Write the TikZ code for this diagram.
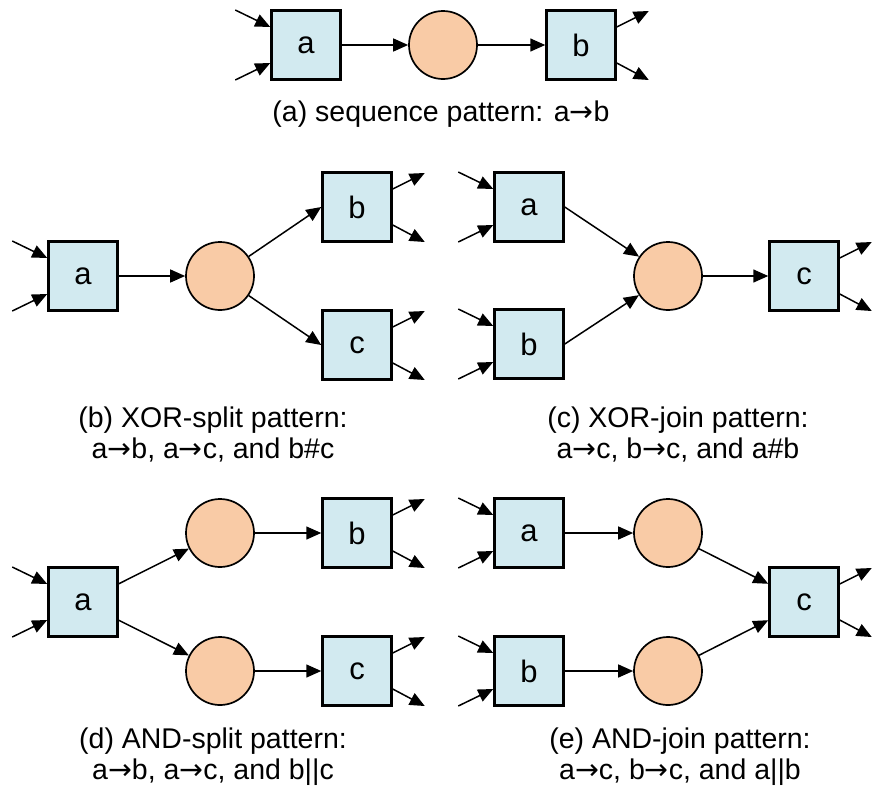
\documentclass[tikz,border=0pt]{standalone}
\usepackage{fontspec}
\setmainfont{Liberation Sans}
\newfontfamily\arrowfont{DejaVu Sans}
\newcommand\ra{{\arrowfont →}}
\usetikzlibrary{calc,arrows.meta}
\definecolor{boxblue}{RGB}{210,234,240}
\definecolor{peach}{RGB}{249,203,166}
\tikzset{
  trans/.style={draw=black, line width=3pt, fill=boxblue, minimum size=68.5pt, inner sep=0pt, font=\fontsize{31}{34}\selectfont},
  place/.style={circle, draw=black, line width=1.7pt, fill=peach, minimum size=68pt, inner sep=0pt},
  conn/.style={line width=1.5pt, -{Triangle[length=15pt,width=13pt]}},
  captext/.style={anchor=base, inner sep=0pt, font=\fontsize{28.5}{32}\selectfont}
}
\newcommand\inarr[1]{%
  \coordinate (#1-s1) at ($(#1.west)+(-35,-35)$);
  \coordinate (#1-e1) at ($(#1.west)+(0,-18)$);
  \coordinate (#1-s2) at ($(#1.west)+(-35,35)$);
  \coordinate (#1-e2) at ($(#1.west)+(0,18)$);
  \draw[conn] (#1-s1) -- (#1-e1);
  \draw[conn] (#1-s2) -- (#1-e2);
}
\newcommand\outarr[1]{%
  \coordinate (#1-o1) at ($(#1.east)+(0,-18)$);
  \coordinate (#1-t1) at ($(#1.east)+(32,-34)$);
  \coordinate (#1-o2) at ($(#1.east)+(0,18)$);
  \coordinate (#1-t2) at ($(#1.east)+(32,35)$);
  \draw[conn] (#1-o1) -- (#1-t1);
  \draw[conn] (#1-o2) -- (#1-t2);
}
\begin{document}
\begin{tikzpicture}[x=1pt,y=-1pt]
\useasboundingbox (0,0) rectangle (872,793);
% (a)
\node[trans] (Aa) at (306,45) {a};
\node[place] (Ap) at (443,45) {};
\node[trans] (Ab) at (581,45) {b};
\draw[conn] (Aa) -- (Ap);
\draw[conn] (Ap) -- (Ab);
\inarr{Aa}
\outarr{Ab}
\node[captext] (Acap) at (441,121) {(a) sequence pattern: a\ra b};
% (b)
\node[trans] (Ba) at (83,276) {a};
\node[place] (Bp) at (220,276) {};
\node[trans] (Bb) at (357,207) {b};
\node[trans] (Bc) at (357,345) {c};
\draw[conn] (Ba) -- (Bp);
\draw[conn] (Bp) -- (Bb.west);
\draw[conn] (Bp) -- (Bc.west);
\inarr{Ba}
\outarr{Bb}
\outarr{Bc}
\node[captext] (Bcap1) at (213,427) {(b) XOR-split pattern:};
\node[captext] (Bcap2) at (213,458) {a\ra b, a\ra c, and b\#c};
% (c)
\node[trans] (Ca) at (529,207) {a};
\node[trans] (Cb) at (529,344) {b};
\node[place] (Cp) at (668,276) {};
\node[trans] (Cc) at (804,276) {c};
\draw[conn] (Ca.east) -- (Cp);
\draw[conn] (Cb.east) -- (Cp);
\draw[conn] (Cp) -- (Cc);
\inarr{Ca}
\inarr{Cb}
\outarr{Cc}
\node[captext] (Ccap1) at (678,427) {(c) XOR-join pattern:};
\node[captext] (Ccap2) at (678,458) {a\ra c, b\ra c, and a\#b};
% (d)
\node[trans] (Da) at (83,602) {a};
\node[place] (Dp1) at (220,533) {};
\node[place] (Dp2) at (220,671) {};
\node[trans] (Db) at (357,533) {b};
\node[trans] (Dc) at (357,671) {c};
\draw[conn] (Da.27) -- (Dp1);
\draw[conn] (Da.-27) -- (Dp2);
\draw[conn] (Dp1) -- (Db);
\draw[conn] (Dp2) -- (Dc);
\inarr{Da}
\outarr{Db}
\outarr{Dc}
\node[captext] (Dcap1) at (213,748) {(d) AND-split pattern:};
\node[captext] (Dcap2) at (213,779) {a\ra b, a\ra c, and b||c};
% (e)
\node[trans] (Ea) at (529,533) {a};
\node[trans] (Eb) at (529,671) {b};
\node[place] (Ep1) at (668,533) {};
\node[place] (Ep2) at (668,671) {};
\node[trans] (Ec) at (804,602) {c};
\draw[conn] (Ea) -- (Ep1);
\draw[conn] (Eb) -- (Ep2);
\draw[conn] (Ep1) -- (Ec.153);
\draw[conn] (Ep2) -- (Ec.-153);
\inarr{Ea}
\inarr{Eb}
\outarr{Ec}
\node[captext] (Ecap1) at (680,748) {(e) AND-join pattern:};
\node[captext] (Ecap2) at (680,779) {a\ra c, b\ra c, and a||b};
\end{tikzpicture}
\end{document}
